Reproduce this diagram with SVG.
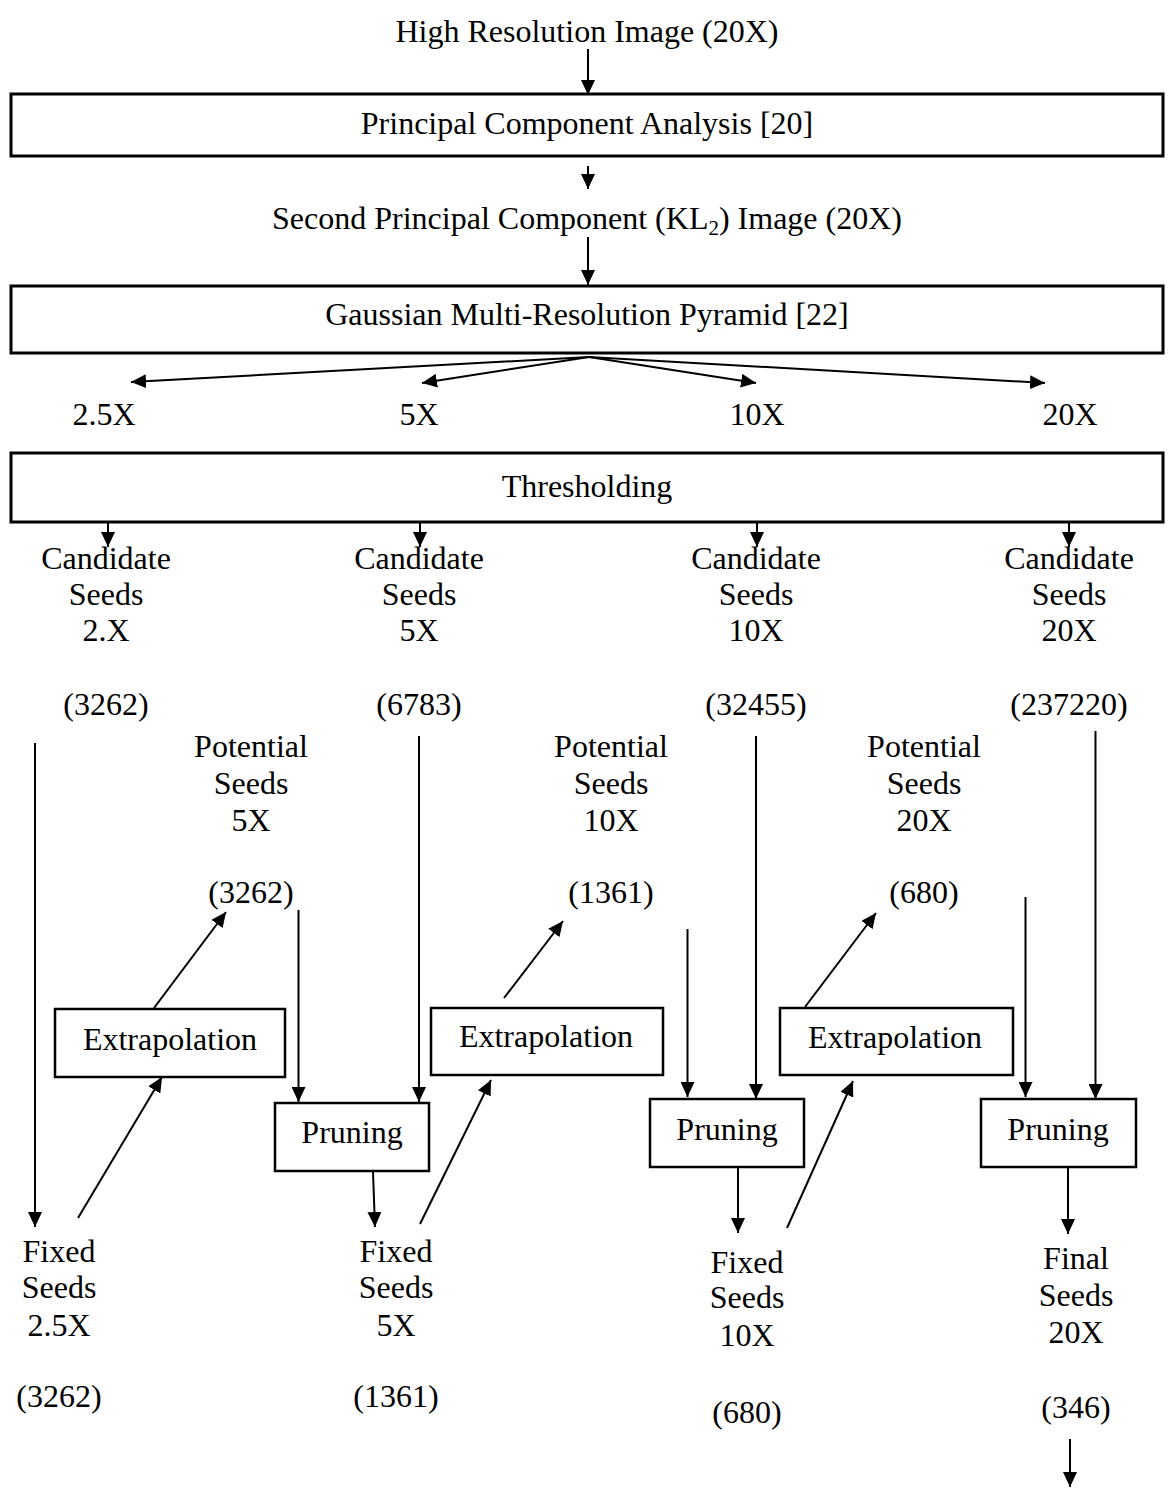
<svg xmlns="http://www.w3.org/2000/svg" width="1168" height="1489" viewBox="0 0 1168 1489">
<defs>
<marker id="ah" viewBox="0 0 15 14" refX="15" refY="7" markerWidth="15" markerHeight="14" markerUnits="userSpaceOnUse" orient="auto"><path d="M0,0 L15,7 L0,14 z" fill="#000"/></marker>
<style>
text { font-family: "Liberation Serif", "Times New Roman", serif; font-size: 32px; fill: #000; text-anchor: middle; }
.big { fill: #fff; stroke: #000; stroke-width: 3; }
.box { fill: #fff; stroke: #000; stroke-width: 2.5; }
#connectors line { stroke: #000; stroke-width: 2; fill: none; }
.a { marker-end: url(#ah); }
</style>
</defs>
<rect width="1168" height="1489" fill="#fff"/>

<g id="connectors">
<line class="a" x1="588" y1="49" x2="588" y2="95"/>
<line class="a" x1="588" y1="166" x2="588" y2="189"/>
<line class="a" x1="588" y1="237" x2="588" y2="285"/>
<line class="a" x1="589" y1="357" x2="131" y2="382"/>
<line class="a" x1="589" y1="357" x2="422" y2="383"/>
<line class="a" x1="589" y1="357" x2="756" y2="383"/>
<line class="a" x1="589" y1="357" x2="1045" y2="383"/>
<line class="a" x1="108" y1="523" x2="108" y2="547"/>
<line class="a" x1="420" y1="523" x2="420" y2="547"/>
<line class="a" x1="757" y1="523" x2="757" y2="547"/>
<line class="a" x1="1069" y1="523" x2="1069" y2="547"/>
<line class="a" x1="35" y1="743" x2="35" y2="1227"/>
<line class="a" x1="78" y1="1218" x2="162" y2="1077"/>
<line class="a" x1="154" y1="1008" x2="226" y2="912"/>
<line class="a" x1="298.5" y1="910" x2="298.5" y2="1102"/>
<line class="a" x1="419" y1="736" x2="419" y2="1102"/>
<line class="a" x1="373" y1="1172" x2="375" y2="1227"/>
<line class="a" x1="420" y1="1224" x2="491" y2="1080"/>
<line class="a" x1="504" y1="998" x2="563" y2="921"/>
<line class="a" x1="687.5" y1="929" x2="687.5" y2="1097"/>
<line class="a" x1="756" y1="736" x2="756" y2="1099"/>
<line class="a" x1="738" y1="1167" x2="738" y2="1233"/>
<line class="a" x1="787" y1="1228" x2="853" y2="1081"/>
<line class="a" x1="805" y1="1007" x2="876" y2="913"/>
<line class="a" x1="1025.5" y1="897" x2="1025.5" y2="1097"/>
<line class="a" x1="1095.5" y1="731" x2="1095.5" y2="1099"/>
<line class="a" x1="1068" y1="1167" x2="1068" y2="1234"/>
<line class="a" x1="1070" y1="1439" x2="1070" y2="1487"/>
</g>

<g id="n-input"><text x="587" y="42">High Resolution Image (20X)</text></g>
<g id="n-pca"><rect class="big" x="11" y="94" width="1152" height="62"/><text x="587" y="134">Principal Component Analysis [20]</text></g>
<g id="n-kl2"><text x="587" y="229">Second Principal Component (KL<tspan font-size="21" dy="6">2</tspan><tspan dy="-6">) Image (20X)</tspan></text></g>
<g id="n-gauss"><rect class="big" x="11" y="286" width="1152" height="67"/><text x="587" y="325">Gaussian Multi-Resolution Pyramid [22]</text></g>
<g id="n-r25"><text x="104" y="425">2.5X</text></g>
<g id="n-r5"><text x="419" y="425">5X</text></g>
<g id="n-r10"><text x="757" y="425">10X</text></g>
<g id="n-r20"><text x="1070" y="425">20X</text></g>
<g id="n-thresh"><rect class="big" x="11" y="453" width="1152" height="69"/><text x="587" y="497">Thresholding</text></g>

<g id="n-cand25"><text x="106" y="569">Candidate</text><text x="106" y="605">Seeds</text><text x="106" y="641">2.X</text><text x="106" y="715">(3262)</text></g>
<g id="n-cand5"><text x="419" y="569">Candidate</text><text x="419" y="605">Seeds</text><text x="419" y="641">5X</text><text x="419" y="715">(6783)</text></g>
<g id="n-cand10"><text x="756" y="569">Candidate</text><text x="756" y="605">Seeds</text><text x="756" y="641">10X</text><text x="756" y="715">(32455)</text></g>
<g id="n-cand20"><text x="1069" y="569">Candidate</text><text x="1069" y="605">Seeds</text><text x="1069" y="641">20X</text><text x="1069" y="715">(237220)</text></g>

<g id="n-pot5"><text x="251" y="757">Potential</text><text x="251" y="794">Seeds</text><text x="251" y="831">5X</text><text x="251" y="903">(3262)</text></g>
<g id="n-pot10"><text x="611" y="757">Potential</text><text x="611" y="794">Seeds</text><text x="611" y="831">10X</text><text x="611" y="903">(1361)</text></g>
<g id="n-pot20"><text x="924" y="757">Potential</text><text x="924" y="794">Seeds</text><text x="924" y="831">20X</text><text x="924" y="903">(680)</text></g>

<g id="n-extra1"><rect class="box" x="55" y="1009" width="230" height="68"/><text x="170" y="1050">Extrapolation</text></g>
<g id="n-extra2"><rect class="box" x="431" y="1008" width="232" height="67"/><text x="546" y="1047">Extrapolation</text></g>
<g id="n-extra3"><rect class="box" x="780" y="1008" width="233" height="67"/><text x="895" y="1048">Extrapolation</text></g>

<g id="n-prune1"><rect class="box" x="275" y="1103" width="154" height="68"/><text x="352" y="1143">Pruning</text></g>
<g id="n-prune2"><rect class="box" x="650" y="1099" width="154" height="68"/><text x="727" y="1140">Pruning</text></g>
<g id="n-prune3"><rect class="box" x="981" y="1099" width="155" height="68"/><text x="1058" y="1140">Pruning</text></g>

<g id="n-fix25"><text x="59" y="1262">Fixed</text><text x="59" y="1298">Seeds</text><text x="59" y="1336">2.5X</text><text x="59" y="1407">(3262)</text></g>
<g id="n-fix5"><text x="396" y="1262">Fixed</text><text x="396" y="1298">Seeds</text><text x="396" y="1336">5X</text><text x="396" y="1407">(1361)</text></g>
<g id="n-fix10"><text x="747" y="1273">Fixed</text><text x="747" y="1308">Seeds</text><text x="747" y="1346">10X</text><text x="747" y="1423">(680)</text></g>
<g id="n-final"><text x="1076" y="1269">Final</text><text x="1076" y="1306">Seeds</text><text x="1076" y="1343">20X</text><text x="1076" y="1418">(346)</text></g>
</svg>
